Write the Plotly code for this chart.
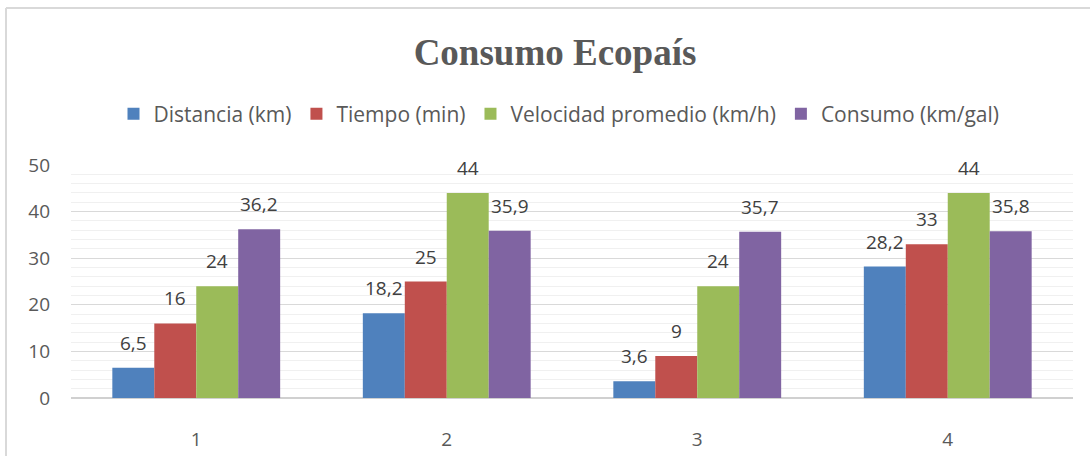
import plotly.graph_objects as go

categories = [1, 2, 3, 4]
series_names = ["Distancia (km)", "Tiempo (min)", "Velocidad promedio (km/h)", "Consumo (km/gal)"]
distancia = [6.5, 18.2, 3.6, 28.2]
tiempo = [16, 25, 9, 33]
velocidad = [24, 44, 24, 44]
consumo = [36.2, 35.9, 35.7, 35.8]
series_values = [distancia, tiempo, velocidad, consumo]
colors = ["#4F81BD", "#C0504D", "#9BBB59", "#8064A2"]
y_ticks = [0, 10, 20, 30, 40, 50]

W, H = 1090, 456
L, R, T, B = 71, 17, 165, 58
pw, ph = W - L - R, H - T - B
bargap = 0.33
n = len(series_values)
bw = (1 - bargap) / n

fig = go.Figure()
for name, vals, c in zip(series_names, series_values, colors):
    fig.add_trace(go.Bar(x=categories, y=vals, name=name, marker_color=c,
                         marker_line_width=0))

def fmt(v):
    s = ("%g" % v)
    return s.replace(".", ",")

annotations = []
for i, vals in enumerate(series_values):
    off = (i - (n - 1) / 2) * bw
    for cx, v in zip(categories, vals):
        annotations.append(dict(x=cx + off, y=v, xref="x", yref="y", text=fmt(v),
                                showarrow=False, yanchor="middle", yshift=25,
                                font=dict(family="Open Sans", size=19, color="#404040")))

def px_to_paper_x(px):
    return (px - L) / pw

def px_to_paper_y(py):
    return (H - B - py) / ph

shapes = [
    dict(type="line", xref="paper", yref="paper", x0=px_to_paper_x(6), x1=px_to_paper_x(W + 10),
         y0=px_to_paper_y(8), y1=px_to_paper_y(8), line=dict(color="#D9D9D9", width=2)),
    dict(type="line", xref="paper", yref="paper", x0=px_to_paper_x(6), x1=px_to_paper_x(6),
         y0=px_to_paper_y(8), y1=px_to_paper_y(H + 10), line=dict(color="#D9D9D9", width=2)),
]

fig.update_layout(
    width=W, height=H,
    margin=dict(l=L, r=R, t=T, b=B, autoexpand=False),
    paper_bgcolor="white", plot_bgcolor="white",
    barmode="group", bargap=bargap, bargroupgap=0,
    title=dict(text="<b>Consumo Ecopaís</b>", x=555 / W, xanchor="center",
               y=1 - 52 / H, yanchor="middle", yref="container",
               font=dict(family="Liberation Serif", size=37, color="#595959")),
    legend=dict(orientation="h", x=px_to_paper_x(559), xanchor="center",
                y=px_to_paper_y(114), yanchor="middle",
                font=dict(family="Open Sans", size=21, color="#595959"),
                itemwidth=30, traceorder="normal"),
    xaxis=dict(range=[0.5, 4.5], tickvals=categories, ticktext=[str(c) for c in categories],
               showgrid=False, zeroline=False, showline=False, automargin=False,
               tickfont=dict(family="Open Sans", size=19, color="#595959"),
               ticks="outside", ticklen=0, ticklabelstandoff=24),
    yaxis=dict(range=[0, 50], tickvals=y_ticks, showgrid=True, gridcolor="#D9D9D9", gridwidth=1,
               zeroline=True, zerolinecolor="#D0D0D0", zerolinewidth=2, showline=False,
               automargin=False,
               minor=dict(dtick=2, showgrid=True, gridcolor="#F0F0F0", gridwidth=1),
               tickfont=dict(family="Open Sans", size=19, color="#595959"),
               ticklabelstandoff=20),
    annotations=annotations,
    shapes=shapes,
)

fig.write_html("out.html", config={"displayModeBar": False},
               post_script="document.body.style.margin='0';document.body.style.overflow='hidden';")
